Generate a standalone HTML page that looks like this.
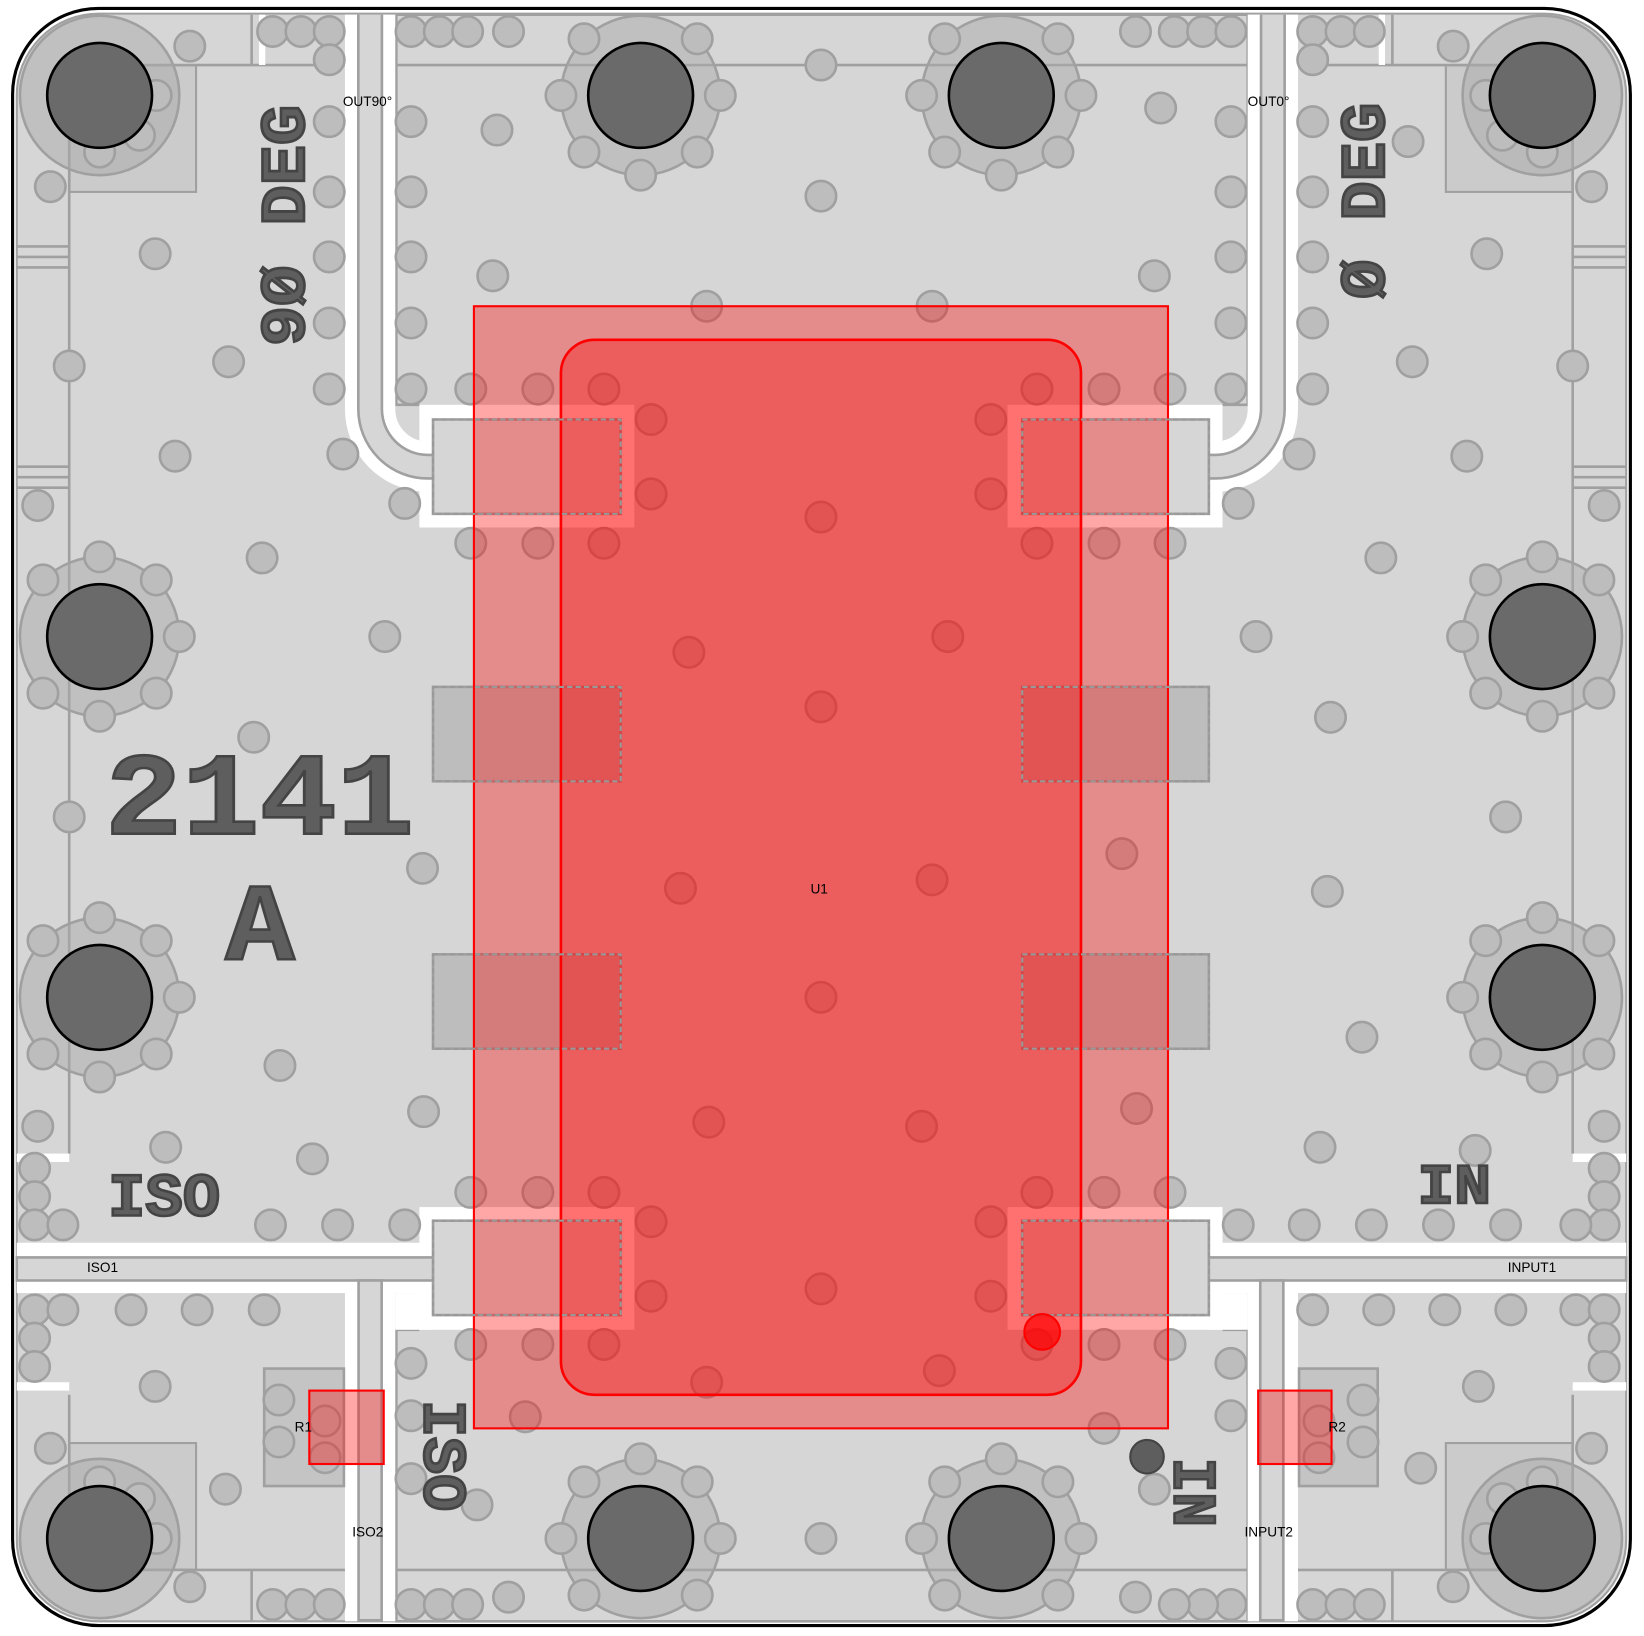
<!DOCTYPE html>
<html><head><meta charset="utf-8"><style>
html,body{margin:0;padding:0;background:#fff;}
svg{display:block;}
.lbl{font-family:"Liberation Sans",sans-serif;font-size:13px;fill:#000;}
.big{font-family:"Liberation Mono",monospace;font-weight:bold;fill:#5e5e5e;stroke:#444;stroke-width:2.5;}
</style></head><body>
<svg width="1644" height="1636" viewBox="0 0 1568 1560" preserveAspectRatio="none" xmlns="http://www.w3.org/2000/svg">
<defs>
<g id="v"><circle r="14.5" fill="#bdbdbd" stroke="#a0a0a0" stroke-width="2.5"/></g>
</defs>
<rect width="1568" height="1560" fill="#fff"/>
<rect x="12" y="8" width="1543" height="1542" rx="82" fill="#fff" stroke="#000" stroke-width="3"/>
<rect x="16" y="13" width="1535" height="1533" rx="78" fill="#d6d6d6" stroke="#a0a0a0" stroke-width="2"/>

<g fill="none" stroke="#a0a0a0" stroke-width="2.5">
<path d="M400,386 H378 V14 H1190 V386 H1166"/>
<line x1="66" y1="62" x2="1500" y2="62"/>
<line x1="66" y1="62" x2="66" y2="1100"/>
<line x1="1500" y1="62" x2="1500" y2="1100"/>
<line x1="66" y1="1330" x2="66" y2="1497"/>
<line x1="1500" y1="1330" x2="1500" y2="1497"/>
<line x1="66" y1="1497" x2="1500" y2="1497"/>
<path d="M400,1268 H378 V1546 H1190 V1268 H1166"/>
<line x1="16" y1="235" x2="66" y2="235"/><line x1="16" y1="245" x2="66" y2="245"/><line x1="16" y1="255" x2="66" y2="255"/>
<line x1="16" y1="445" x2="66" y2="445"/><line x1="16" y1="455" x2="66" y2="455"/><line x1="16" y1="465" x2="66" y2="465"/>
<line x1="1500" y1="235" x2="1551" y2="235"/><line x1="1500" y1="245" x2="1551" y2="245"/><line x1="1500" y1="255" x2="1551" y2="255"/>
<line x1="1500" y1="445" x2="1551" y2="445"/><line x1="1500" y1="455" x2="1551" y2="455"/><line x1="1500" y1="465" x2="1551" y2="465"/>
<line x1="240" y1="14" x2="240" y2="62"/><line x1="1328" y1="14" x2="1328" y2="62"/>
<line x1="240" y1="1497" x2="240" y2="1546"/><line x1="1328" y1="1497" x2="1328" y2="1546"/>
</g>

<g fill="#fff">
<rect x="247" y="14" width="6" height="48"/>
<rect x="1315" y="14" width="6" height="48"/>
<rect x="400" y="386" width="205" height="117"/>
<rect x="961" y="386" width="205" height="117"/>
<rect x="400" y="1151" width="205" height="117"/>
<rect x="961" y="1151" width="205" height="117"/>
<rect x="16" y="1185" width="397" height="48"/>
<rect x="1153" y="1185" width="398" height="48"/>
<rect x="329" y="1221" width="48" height="325"/>
<rect x="1190" y="1221" width="48" height="325"/>
<rect x="377" y="1233" width="36" height="35"/>
<rect x="1153" y="1233" width="37" height="35"/>
<rect x="16" y="1100" width="50" height="8"/>
<rect x="1500" y="1100" width="51" height="8"/>
<rect x="16" y="1318" width="50" height="8"/>
<rect x="1500" y="1318" width="51" height="8"/>
</g>
<path d="M353,14 V390 A55,55 0 0 0 408,445 H420" fill="none" stroke="#fff" stroke-width="48"/>
<path d="M1214,14 V390 A55,55 0 0 1 1159,445 H1148" fill="none" stroke="#fff" stroke-width="48"/>
<g fill="none">
<path d="M353,14 V390 A55,55 0 0 0 408,445 H420" stroke="#a0a0a0" stroke-width="25"/>
<path d="M353,14 V390 A55,55 0 0 0 408,445 H420" stroke="#d6d6d6" stroke-width="20"/>
<path d="M1214,14 V390 A55,55 0 0 1 1159,445 H1148" stroke="#a0a0a0" stroke-width="25"/>
<path d="M1214,14 V390 A55,55 0 0 1 1159,445 H1148" stroke="#d6d6d6" stroke-width="20"/>
</g>
<g fill="#d6d6d6" stroke="#a0a0a0" stroke-width="2.5">
<rect x="16" y="1199" width="400" height="22"/>
<rect x="1150" y="1199" width="401" height="22"/>
<rect x="342" y="1221" width="22" height="324"/>
<rect x="1202" y="1221" width="22" height="324"/>
<rect x="413" y="400" width="179" height="90"/>
<rect x="975" y="400" width="178" height="90"/>
<rect x="413" y="1164" width="179" height="90"/>
<rect x="975" y="1164" width="178" height="90"/>
</g>
<g fill="#bdbdbd" stroke="#a0a0a0" stroke-width="2.5">
<rect x="413" y="655" width="179" height="90"/>
<rect x="975" y="655" width="178" height="90"/>
<rect x="413" y="910" width="179" height="90"/>
<rect x="975" y="910" width="178" height="90"/>
<rect x="252" y="1305" width="76" height="112" fill="#c4c4c4"/>
<rect x="1239" y="1305" width="75" height="112" fill="#c4c4c4"/>
</g>

<g>
<use href="#v" x="181" y="44"/><use href="#v" x="260" y="30"/><use href="#v" x="287" y="30"/><use href="#v" x="314" y="30"/><use href="#v" x="314" y="57"/>
<use href="#v" x="48" y="178"/><use href="#v" x="148" y="242"/><use href="#v" x="66" y="349"/><use href="#v" x="218" y="345"/><use href="#v" x="167" y="435"/><use href="#v" x="36" y="482"/><use href="#v" x="327" y="433"/><use href="#v" x="386" y="480"/>
<use href="#v" x="314" y="116"/><use href="#v" x="314" y="183"/><use href="#v" x="314" y="245"/><use href="#v" x="314" y="308"/><use href="#v" x="314" y="371"/>
<use href="#v" x="392" y="30"/><use href="#v" x="419" y="30"/><use href="#v" x="446" y="30"/><use href="#v" x="392" y="116"/><use href="#v" x="392" y="183"/><use href="#v" x="392" y="245"/><use href="#v" x="392" y="308"/><use href="#v" x="392" y="371"/>
<use href="#v" x="470" y="263"/><use href="#v" x="474" y="124"/><use href="#v" x="485" y="30"/><use href="#v" x="783" y="62"/><use href="#v" x="783" y="187"/><use href="#v" x="674" y="292"/><use href="#v" x="889" y="292"/>
<use href="#v" x="1107" y="103"/><use href="#v" x="1083" y="30"/><use href="#v" x="1120" y="30"/><use href="#v" x="1147" y="30"/><use href="#v" x="1174" y="30"/><use href="#v" x="1174" y="116"/><use href="#v" x="1174" y="183"/><use href="#v" x="1174" y="245"/><use href="#v" x="1174" y="308"/><use href="#v" x="1174" y="371"/><use href="#v" x="1101" y="263"/>
<use href="#v" x="1252" y="30"/><use href="#v" x="1279" y="30"/><use href="#v" x="1306" y="30"/><use href="#v" x="1252" y="57"/><use href="#v" x="1252" y="116"/><use href="#v" x="1252" y="183"/><use href="#v" x="1252" y="245"/><use href="#v" x="1252" y="308"/><use href="#v" x="1252" y="371"/>
<use href="#v" x="1343" y="135"/><use href="#v" x="1386" y="44"/><use href="#v" x="1418" y="242"/><use href="#v" x="1347" y="345"/><use href="#v" x="1500" y="349"/><use href="#v" x="1518" y="178"/><use href="#v" x="1399" y="435"/><use href="#v" x="1239" y="433"/><use href="#v" x="1181" y="480"/><use href="#v" x="1530" y="482"/>
<use href="#v" x="250" y="532"/><use href="#v" x="242" y="703"/><use href="#v" x="367" y="607"/><use href="#v" x="403" y="828"/><use href="#v" x="66" y="779"/><use href="#v" x="267" y="1016"/><use href="#v" x="404" y="1060"/><use href="#v" x="36" y="1074"/><use href="#v" x="158" y="1094"/><use href="#v" x="298" y="1105"/>
<use href="#v" x="1317" y="532"/><use href="#v" x="1198" y="607"/><use href="#v" x="1269" y="684"/><use href="#v" x="1436" y="779"/><use href="#v" x="1266" y="850"/><use href="#v" x="1299" y="989"/><use href="#v" x="1530" y="1074"/><use href="#v" x="1259" y="1094"/><use href="#v" x="1407" y="1097"/><use href="#v" x="1084" y="1057"/><use href="#v" x="1070" y="814"/>
<use href="#v" x="449" y="371"/><use href="#v" x="513" y="371"/><use href="#v" x="576" y="371"/><use href="#v" x="621" y="400"/><use href="#v" x="621" y="471"/><use href="#v" x="449" y="518"/><use href="#v" x="513" y="518"/><use href="#v" x="576" y="518"/>
<use href="#v" x="783" y="493"/><use href="#v" x="657" y="622"/><use href="#v" x="783" y="674"/><use href="#v" x="904" y="607"/><use href="#v" x="649" y="847"/><use href="#v" x="889" y="839"/><use href="#v" x="783" y="951"/><use href="#v" x="676" y="1070"/><use href="#v" x="879" y="1074"/>
<use href="#v" x="449" y="1137"/><use href="#v" x="513" y="1137"/><use href="#v" x="576" y="1137"/><use href="#v" x="621" y="1165"/><use href="#v" x="621" y="1236"/><use href="#v" x="783" y="1229"/><use href="#v" x="945" y="1165"/><use href="#v" x="945" y="1236"/>
<use href="#v" x="989" y="1137"/><use href="#v" x="1053" y="1137"/><use href="#v" x="1116" y="1137"/><use href="#v" x="945" y="400"/><use href="#v" x="945" y="471"/><use href="#v" x="989" y="371"/><use href="#v" x="1053" y="371"/><use href="#v" x="1116" y="371"/><use href="#v" x="989" y="518"/><use href="#v" x="1053" y="518"/><use href="#v" x="1116" y="518"/>
<use href="#v" x="449" y="1282"/><use href="#v" x="513" y="1282"/><use href="#v" x="576" y="1282"/><use href="#v" x="674" y="1318"/><use href="#v" x="896" y="1307"/><use href="#v" x="989" y="1282"/><use href="#v" x="1053" y="1282"/><use href="#v" x="1116" y="1282"/><use href="#v" x="501" y="1351"/><use href="#v" x="1053" y="1362"/>
<use href="#v" x="33" y="1114"/><use href="#v" x="33" y="1141"/><use href="#v" x="33" y="1168"/><use href="#v" x="60" y="1168"/><use href="#v" x="258" y="1168"/><use href="#v" x="322" y="1168"/><use href="#v" x="386" y="1168"/>
<use href="#v" x="1181" y="1168"/><use href="#v" x="1244" y="1168"/><use href="#v" x="1308" y="1168"/><use href="#v" x="1372" y="1168"/><use href="#v" x="1436" y="1168"/><use href="#v" x="1530" y="1114"/><use href="#v" x="1530" y="1141"/><use href="#v" x="1530" y="1168"/><use href="#v" x="1503" y="1168"/>
<use href="#v" x="33" y="1249"/><use href="#v" x="60" y="1249"/><use href="#v" x="125" y="1249"/><use href="#v" x="188" y="1249"/><use href="#v" x="252" y="1249"/><use href="#v" x="33" y="1276"/><use href="#v" x="33" y="1303"/><use href="#v" x="148" y="1322"/><use href="#v" x="48" y="1381"/><use href="#v" x="215" y="1420"/><use href="#v" x="181" y="1513"/>
<use href="#v" x="260" y="1530"/><use href="#v" x="287" y="1530"/><use href="#v" x="314" y="1530"/><use href="#v" x="392" y="1300"/><use href="#v" x="392" y="1350"/><use href="#v" x="392" y="1410"/><use href="#v" x="455" y="1435"/><use href="#v" x="392" y="1530"/><use href="#v" x="419" y="1530"/><use href="#v" x="446" y="1530"/><use href="#v" x="485" y="1523"/><use href="#v" x="783" y="1467"/>
<use href="#v" x="1174" y="1300"/><use href="#v" x="1174" y="1350"/><use href="#v" x="1101" y="1420"/><use href="#v" x="1174" y="1530"/><use href="#v" x="1147" y="1530"/><use href="#v" x="1120" y="1530"/><use href="#v" x="1083" y="1523"/><use href="#v" x="1252" y="1530"/><use href="#v" x="1279" y="1530"/><use href="#v" x="1306" y="1530"/>
<use href="#v" x="1252" y="1249"/><use href="#v" x="1315" y="1249"/><use href="#v" x="1378" y="1249"/><use href="#v" x="1441" y="1249"/><use href="#v" x="1503" y="1249"/><use href="#v" x="1530" y="1249"/><use href="#v" x="1530" y="1276"/><use href="#v" x="1530" y="1303"/><use href="#v" x="1410" y="1322"/><use href="#v" x="1355" y="1400"/><use href="#v" x="1518" y="1381"/><use href="#v" x="1386" y="1513"/>
<use href="#v" x="266" y="1335"/><use href="#v" x="266" y="1375"/><use href="#v" x="310" y="1355"/><use href="#v" x="310" y="1390"/>
<use href="#v" x="1300" y="1335"/><use href="#v" x="1300" y="1375"/><use href="#v" x="1258" y="1355"/><use href="#v" x="1258" y="1390"/>
</g>

<g fill="rgba(0,0,0,0.05)" stroke="#a0a0a0" stroke-width="2">
<rect x="66" y="62" width="121" height="121"/>
<rect x="1379" y="62" width="121" height="121"/>
<rect x="66" y="1376" width="121" height="121"/>
<rect x="1379" y="1376" width="121" height="121"/>
</g>

<g>
<g transform="translate(95,91)"><circle r="76" fill="rgba(170,170,170,0.5)" stroke="#a0a0a0" stroke-width="2.5"/><use href="#v" x="54" y="0"/><use href="#v" x="38" y="38"/><use href="#v" x="0" y="54"/></g>
<g transform="translate(1471,91)"><circle r="76" fill="rgba(170,170,170,0.5)" stroke="#a0a0a0" stroke-width="2.5"/><use href="#v" x="-54" y="0"/><use href="#v" x="-38" y="38"/><use href="#v" x="0" y="54"/></g>
<g transform="translate(95,1467)"><circle r="76" fill="rgba(170,170,170,0.5)" stroke="#a0a0a0" stroke-width="2.5"/><use href="#v" x="54" y="0"/><use href="#v" x="38" y="-38"/><use href="#v" x="0" y="-54"/></g>
<g transform="translate(1471,1467)"><circle r="76" fill="rgba(170,170,170,0.5)" stroke="#a0a0a0" stroke-width="2.5"/><use href="#v" x="-54" y="0"/><use href="#v" x="-38" y="-38"/><use href="#v" x="0" y="-54"/></g>
</g>
<g>
<g transform="translate(611,91)"><circle r="76" fill="rgba(170,170,170,0.5)" stroke="#a0a0a0" stroke-width="2.5"/><use href="#v" x="76" y="0"/><use href="#v" x="-76" y="0"/><use href="#v" x="0" y="76"/><use href="#v" x="54" y="54"/><use href="#v" x="-54" y="54"/><use href="#v" x="54" y="-54"/><use href="#v" x="-54" y="-54"/></g>
<g transform="translate(955,91)"><circle r="76" fill="rgba(170,170,170,0.5)" stroke="#a0a0a0" stroke-width="2.5"/><use href="#v" x="76" y="0"/><use href="#v" x="-76" y="0"/><use href="#v" x="0" y="76"/><use href="#v" x="54" y="54"/><use href="#v" x="-54" y="54"/><use href="#v" x="54" y="-54"/><use href="#v" x="-54" y="-54"/></g>
<g transform="translate(611,1467)"><circle r="76" fill="rgba(170,170,170,0.5)" stroke="#a0a0a0" stroke-width="2.5"/><use href="#v" x="76" y="0"/><use href="#v" x="-76" y="0"/><use href="#v" x="0" y="-76"/><use href="#v" x="54" y="54"/><use href="#v" x="-54" y="54"/><use href="#v" x="54" y="-54"/><use href="#v" x="-54" y="-54"/></g>
<g transform="translate(955,1467)"><circle r="76" fill="rgba(170,170,170,0.5)" stroke="#a0a0a0" stroke-width="2.5"/><use href="#v" x="76" y="0"/><use href="#v" x="-76" y="0"/><use href="#v" x="0" y="-76"/><use href="#v" x="54" y="54"/><use href="#v" x="-54" y="54"/><use href="#v" x="54" y="-54"/><use href="#v" x="-54" y="-54"/></g>
<g transform="translate(95,607)"><circle r="76" fill="rgba(170,170,170,0.5)" stroke="#a0a0a0" stroke-width="2.5"/><use href="#v" x="76" y="0"/><use href="#v" x="0" y="76"/><use href="#v" x="0" y="-76"/><use href="#v" x="54" y="54"/><use href="#v" x="-54" y="54"/><use href="#v" x="54" y="-54"/><use href="#v" x="-54" y="-54"/></g>
<g transform="translate(95,951)"><circle r="76" fill="rgba(170,170,170,0.5)" stroke="#a0a0a0" stroke-width="2.5"/><use href="#v" x="76" y="0"/><use href="#v" x="0" y="76"/><use href="#v" x="0" y="-76"/><use href="#v" x="54" y="54"/><use href="#v" x="-54" y="54"/><use href="#v" x="54" y="-54"/><use href="#v" x="-54" y="-54"/></g>
<g transform="translate(1471,607)"><circle r="76" fill="rgba(170,170,170,0.5)" stroke="#a0a0a0" stroke-width="2.5"/><use href="#v" x="-76" y="0"/><use href="#v" x="0" y="76"/><use href="#v" x="0" y="-76"/><use href="#v" x="54" y="54"/><use href="#v" x="-54" y="54"/><use href="#v" x="54" y="-54"/><use href="#v" x="-54" y="-54"/></g>
<g transform="translate(1471,951)"><circle r="76" fill="rgba(170,170,170,0.5)" stroke="#a0a0a0" stroke-width="2.5"/><use href="#v" x="-76" y="0"/><use href="#v" x="0" y="76"/><use href="#v" x="0" y="-76"/><use href="#v" x="54" y="54"/><use href="#v" x="-54" y="54"/><use href="#v" x="54" y="-54"/><use href="#v" x="-54" y="-54"/></g>
</g>
<g fill="#6a6a6a" stroke="#000" stroke-width="2.5">
<circle cx="95" cy="91" r="50"/><circle cx="611" cy="91" r="50"/><circle cx="955" cy="91" r="50"/><circle cx="1471" cy="91" r="50"/>
<circle cx="95" cy="607" r="50"/><circle cx="1471" cy="607" r="50"/><circle cx="95" cy="951" r="50"/><circle cx="1471" cy="951" r="50"/>
<circle cx="95" cy="1467" r="50"/><circle cx="611" cy="1467" r="50"/><circle cx="955" cy="1467" r="50"/><circle cx="1471" cy="1467" r="50"/>
</g>
<circle cx="1094" cy="1389" r="16" fill="#5e5e5e" stroke="#444" stroke-width="2"/>

<text class="big" x="100" y="795" font-size="112" textLength="295" lengthAdjust="spacingAndGlyphs">2141</text>
<text class="big" x="215" y="915" font-size="105" textLength="66" lengthAdjust="spacingAndGlyphs">A</text>
<text class="big" x="103" y="1159" font-size="58" textLength="107" lengthAdjust="spacingAndGlyphs">ISO</text>
<text class="big" x="1352" y="1147" font-size="54" textLength="70" lengthAdjust="spacingAndGlyphs">IN</text>
<text class="big" transform="translate(290,330) rotate(-90)" x="0" y="0" font-size="60" textLength="230" lengthAdjust="spacingAndGlyphs">9Ø DEG</text>
<text class="big" transform="translate(1320,285) rotate(-90)" x="0" y="0" font-size="60" textLength="187" lengthAdjust="spacingAndGlyphs">Ø DEG</text>
<text class="big" transform="translate(405,1335) rotate(90)" x="0" y="0" font-size="58" textLength="106" lengthAdjust="spacingAndGlyphs">ISO</text>
<text class="big" transform="translate(1120,1390) rotate(90)" x="0" y="0" font-size="58" textLength="66" lengthAdjust="spacingAndGlyphs">IN</text>

<rect x="452" y="292" width="662" height="1070" fill="rgba(255,0,0,0.35)" stroke="#f00" stroke-width="2"/>
<rect x="535" y="324" width="496" height="1006" rx="32" fill="rgba(255,0,0,0.32)" stroke="#f00" stroke-width="2.5"/>
<g fill="none" stroke="#999" stroke-width="2" stroke-dasharray="5,3">
<rect x="413" y="400" width="179" height="90"/><rect x="975" y="400" width="178" height="90"/>
<rect x="413" y="655" width="179" height="90"/><rect x="975" y="655" width="178" height="90"/>
<rect x="413" y="910" width="179" height="90"/><rect x="975" y="910" width="178" height="90"/>
<rect x="413" y="1164" width="179" height="90"/><rect x="975" y="1164" width="178" height="90"/>
</g>
<circle cx="994" cy="1270" r="17" fill="rgba(255,0,0,0.7)" stroke="#f00" stroke-width="2"/>
<rect x="295" y="1326" width="71" height="70" fill="rgba(255,0,0,0.35)" stroke="#f00" stroke-width="2"/>
<rect x="1200" y="1326" width="70" height="70" fill="rgba(255,0,0,0.35)" stroke="#f00" stroke-width="2"/>

<text class="lbl" x="327" y="101" font-size="12">OUT90°</text>
<text class="lbl" x="1190" y="101" font-size="12">OUT0°</text>
<text class="lbl" x="83" y="1213">ISO1</text>
<text class="lbl" x="1438" y="1213">INPUT1</text>
<text class="lbl" x="336" y="1465">ISO2</text>
<text class="lbl" x="1187" y="1465">INPUT2</text>
<text class="lbl" x="281" y="1365">R1</text>
<text class="lbl" x="1267" y="1365">R2</text>
<text class="lbl" x="773" y="852">U1</text>
</svg>
</body></html>
